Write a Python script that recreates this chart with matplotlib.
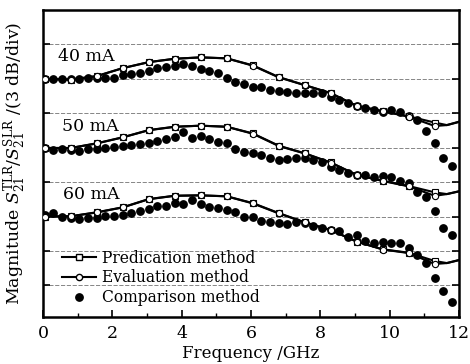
import numpy as np
import matplotlib
matplotlib.use("Agg")
import matplotlib.pyplot as plt
from matplotlib.ticker import MultipleLocator
from matplotlib.lines import Line2D

plt.rcParams['font.family'] = ['DejaVu Serif']
plt.rcParams['mathtext.fontset'] = 'dejavuserif'

# ---------------- data ----------------
# comparison (measured) points, every 0.25 GHz
freq_dots = [0.05 + 0.25 * k for k in range(48)]
cmp_40 = [20.96, 20.96, 20.93, 20.96, 20.93, 21.02, 21.07, 21.07, 21.07, 21.30,
          21.39, 21.45, 21.65, 21.89, 22.03, 22.09, 22.30, 22.09, 21.83, 21.65,
          21.45, 21.04, 20.72, 20.50, 20.30, 20.22, 20.04, 19.91, 19.83, 19.78,
          19.74, 19.78, 19.78, 19.39, 19.13, 18.87, 18.61, 18.43, 18.22, 18.13,
          18.22, 18.09, 17.70, 17.43, 16.43, 15.35, 14.13, 13.35]
cmp_50 = [14.93, 14.78, 14.83, 14.78, 14.70, 14.83, 14.84, 15.00, 15.02, 15.09,
          15.22, 15.30, 15.42, 15.57, 15.74, 15.91, 16.35, 15.87, 16.04, 15.71,
          15.50, 15.43, 14.84, 14.58, 14.50, 14.35, 14.06, 13.91, 13.97, 14.06,
          14.11, 13.91, 13.70, 13.33, 13.04, 12.78, 12.65, 12.57, 12.41, 12.48,
          12.41, 12.13, 11.89, 11.17, 10.70, 9.48, 8.04, 7.35]
cmp_60 = [9.09, 9.28, 9.00, 8.91, 8.78, 8.90, 8.87, 9.04, 9.04, 9.17,
          9.30, 9.48, 9.61, 9.91, 9.94, 10.17, 10.13, 10.41, 10.09, 9.83,
          9.74, 9.58, 9.37, 8.93, 8.97, 8.57, 8.52, 8.43, 8.37, 8.50,
          8.43, 8.17, 8.00, 7.83, 7.74, 7.22, 7.39, 6.84, 6.70, 6.74,
          6.67, 6.67, 6.26, 5.65, 4.93, 3.63, 2.52, 1.59]

# model curves (markers every 0.75 GHz, then curve end)
freq_line = [0.05 + 0.75 * j for j in range(16)] + [11.65, 12.0]
n_mark = 16
pred_40 = [20.96, 20.91, 21.22, 21.91, 22.43, 22.72, 22.84, 22.76, 22.15, 21.13,
           20.43, 19.74, 18.61, 18.17, 17.71, 17.17, 16.95, 17.25]
eval_40 = [20.96, 20.91, 21.20, 21.90, 22.42, 22.72, 22.84, 22.75, 22.12, 21.10,
           20.42, 19.72, 18.62, 18.15, 17.68, 16.87, 16.95, 17.22]
pred_50 = [14.96, 14.96, 15.37, 15.89, 16.52, 16.81, 16.90, 16.81, 16.23, 15.16,
           14.50, 13.70, 12.61, 12.11, 11.65, 11.10, 10.95, 11.20]
eval_50 = [14.96, 14.96, 15.35, 15.88, 16.50, 16.80, 16.90, 16.80, 16.20, 15.13,
           14.48, 13.68, 12.62, 12.09, 11.62, 10.80, 10.95, 11.18]
pred_60 = [9.00, 9.02, 9.37, 9.80, 10.52, 10.81, 10.84, 10.76, 10.17, 9.30,
           8.50, 7.83, 6.81, 6.15, 5.85, 5.13, 4.95, 5.22]
eval_60 = [9.00, 9.02, 9.35, 9.79, 10.50, 10.80, 10.84, 10.75, 10.14, 9.27,
           8.48, 7.81, 6.82, 6.13, 5.82, 4.87, 4.95, 5.20]

curve_labels = ["40 mA", "50 mA", "60 mA"]
label_pos = [(0.43, 22.9), (0.54, 16.8), (0.58, 10.9)]
legend_labels = ["Predication method", "Evaluation method", "Comparison method"]

# ---------------- figure ----------------
fig = plt.figure(figsize=(4.70, 3.64), dpi=100)
ax = fig.add_axes([43 / 470, 1 - 317 / 364, (459 - 43) / 470, (317 - 10) / 364])

preds = [pred_40, pred_50, pred_60]
evals = [eval_40, eval_50, eval_60]
cmps = [cmp_40, cmp_50, cmp_60]

for i in range(3):
    ax.plot(freq_line, preds[i], color='black', lw=1.5, zorder=3)
    ax.plot(freq_line, evals[i], color='black', lw=1.5, zorder=3)
    ax.plot(freq_dots, cmps[i], 'o', color='black', ms=5.3, mec='black', zorder=4,
            linestyle='none')
    ax.plot(freq_line[:n_mark], preds[i][:n_mark], 's', ms=4.3, mfc='white', mec='black',
            mew=0.8, zorder=5, linestyle='none')
    ax.plot(freq_line[:n_mark], evals[i][:n_mark], 'o', ms=4.5, mfc='white', mec='black',
            mew=0.8, zorder=6, linestyle='none')
    ax.text(label_pos[i][0], label_pos[i][1], curve_labels[i], fontsize=12.5,
            ha='left', va='center', zorder=7)

ax.set_xlim(0, 12)
ax.set_ylim(0.26, 26.96)
ax.xaxis.set_major_locator(MultipleLocator(2))
ax.xaxis.set_minor_locator(MultipleLocator(1))
ax.set_yticks([3, 6, 9, 12, 15, 18, 21, 24])
ax.set_yticklabels([])
ax.yaxis.grid(True, color='0.45', linestyle=(0, (5, 2)), lw=0.6)
ax.tick_params(axis='both', which='both', direction='in', right=True, top=False)
ax.tick_params(axis='x', which='major', length=5, width=1.2, labelsize=12.5, pad=6)
ax.tick_params(axis='x', which='minor', length=3, width=1.0)
ax.tick_params(axis='y', which='major', length=5, width=1.2)
for s in ax.spines.values():
    s.set_linewidth(1.8)

ax.set_xlabel("Frequency /GHz", fontsize=12, labelpad=2)
ax.set_ylabel(r"Magnitude $S_{21}^{\mathrm{TLR}}/S_{21}^{\mathrm{SLR}}$ /(3 dB/div)",
              fontsize=12.5, labelpad=7)

# legend
handles = [
    Line2D([], [], color='black', lw=1.5, marker='s', ms=4.3, mfc='white', mec='black'),
    Line2D([], [], color='black', lw=1.5, marker='o', ms=4.5, mfc='white', mec='black'),
    Line2D([], [], color='black', lw=0, marker='o', ms=5.3),
]
ax.legend(handles, legend_labels, loc='lower left', bbox_to_anchor=(0.02, 0.0),
          frameon=False, fontsize=11.2, handlelength=2.2, handletextpad=0.35,
          labelspacing=0.18, borderaxespad=0.3)

fig.savefig("out.png", dpi=100)
